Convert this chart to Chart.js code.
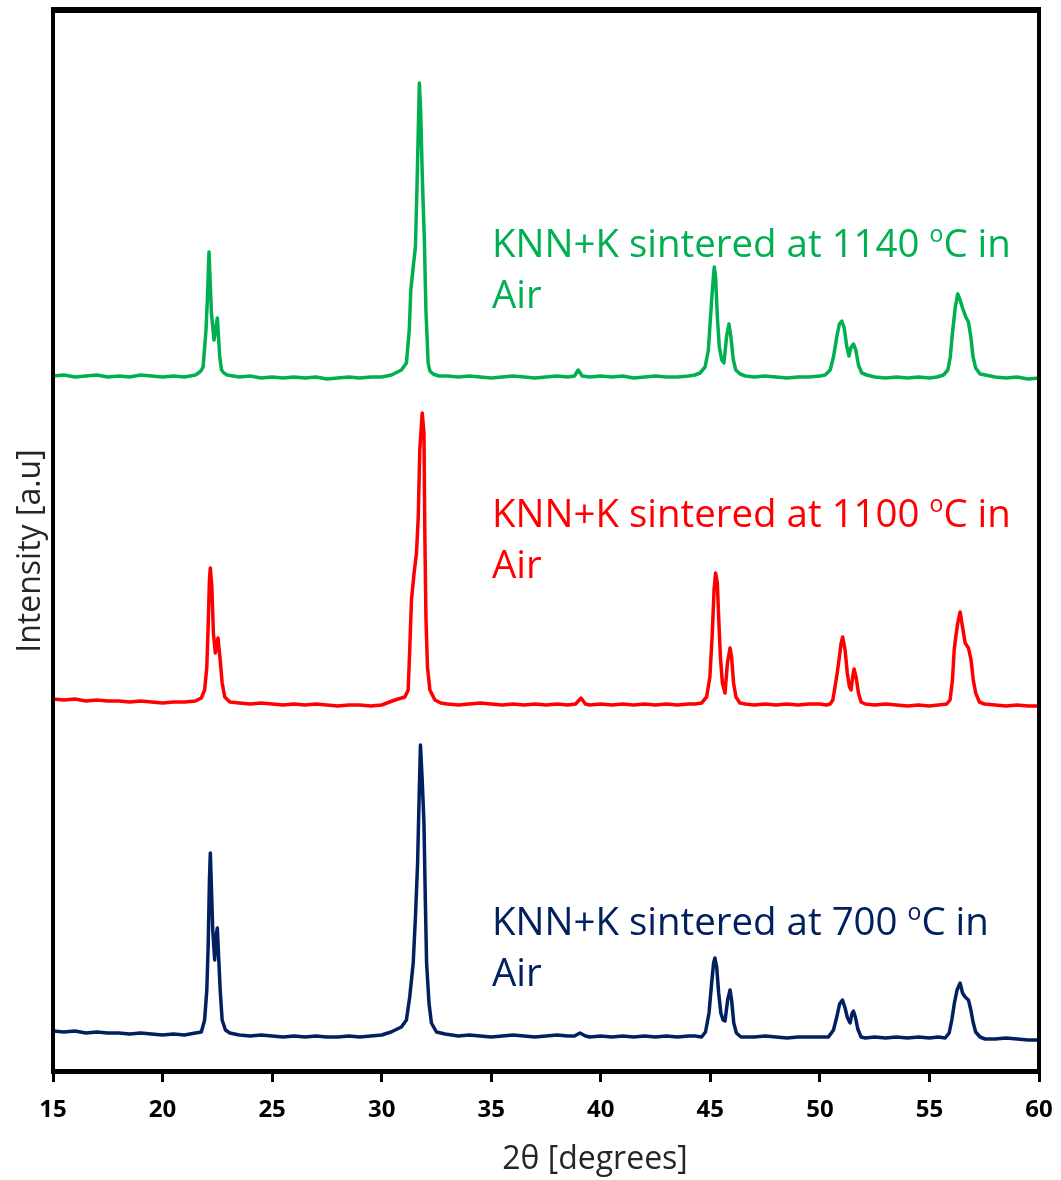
<!DOCTYPE html>
<html>
<head>
<meta charset="utf-8">
<script src="https://cdn.jsdelivr.net/npm/chart.js@4.4.1/dist/chart.umd.min.js"></script>
<style>
  html, body { margin: 0; padding: 0; background: #fff; }
  #wrap { width: 1061px; height: 1180px; }
</style>
</head>
<body>
<div id="wrap"><canvas id="xrd" width="1061" height="1180"></canvas></div>
<script>
// XRD patterns, 2-theta in degrees, intensity in arbitrary (stacked) units

// 1140 C pattern
const theta1140 = [
  15.0, 15.5, 16.0, 16.5, 17.0, 17.5, 18.0, 18.5, 19.0, 19.5, 20.0, 20.5, 21.0, 21.5,
  21.7, 21.78, 21.85, 21.98, 22.05, 22.12, 22.23, 22.35, 22.5, 22.61, 22.69, 22.8, 22.95,
  23.5, 24.0, 24.5, 25.0, 25.5, 26.0, 26.5, 27.0, 27.5, 28.0, 28.5, 29.0, 29.5, 30.0,
  30.45, 30.9, 31.13, 31.26, 31.33, 31.44, 31.54, 31.62, 31.72, 31.78, 31.86, 31.95, 32.02, 32.07, 32.12, 32.2, 32.35, 32.6,
  33.0, 33.5, 34.0, 34.5, 35.0, 35.5, 36.0, 36.5, 37.0, 37.5, 38.0, 38.5,
  38.8, 38.97, 39.15,
  39.5, 40.0, 40.5, 41.0, 41.5, 42.0, 42.5, 43.0, 43.5, 44.0,
  44.3, 44.53, 44.76, 44.91, 45.06, 45.14, 45.18, 45.24, 45.32, 45.41, 45.52, 45.62, 45.74, 45.85, 45.94, 46.05, 46.16, 46.36, 46.6,
  47.0, 47.5, 48.0, 48.5, 49.0, 49.5, 50.0,
  50.24, 50.47, 50.62, 50.77, 50.89, 51.0, 51.11, 51.23, 51.33, 51.41, 51.53, 51.64, 51.76, 51.91, 52.14,
  52.5, 53.0, 53.5, 54.0, 54.5, 55.0,
  55.35, 55.64, 55.84, 55.95, 56.05, 56.18, 56.29, 56.4, 56.51, 56.66, 56.78, 56.89, 56.99, 57.11, 57.31, 57.55,
  58.0, 58.5, 59.0, 59.5, 60.0
];
const int1140 = [
  695, 696, 694, 695, 696, 694, 695, 694, 696, 695, 694, 695, 694, 696,
  699, 701, 704, 740, 774, 819, 758, 731, 753, 714, 701, 698, 696,
  694, 695, 693, 694, 693, 694, 693, 694, 692, 693, 694, 693, 694, 694,
  696, 701, 708, 741, 781, 804, 824, 891, 988, 960, 890, 830, 760, 735, 708, 700, 697, 695,
  695, 694, 695, 694, 693, 694, 695, 694, 693, 694, 695, 694,
  695, 701, 695,
  694, 695, 694, 695, 693, 694, 695, 694, 694, 695,
  696, 698, 704, 721, 771, 794, 804, 794, 754, 724, 711, 708, 734, 747, 734, 711, 701, 697, 695,
  694, 695, 694, 693, 694, 694, 695,
  696, 701, 714, 734, 747, 750, 743, 724, 715, 723, 727, 721, 706, 698, 696,
  694, 693, 694, 693, 694, 693,
  694, 696, 701, 714, 738, 764, 777, 771, 763, 754, 749, 734, 714, 703, 697, 696,
  694, 693, 694, 692, 693
];

// 1100 C pattern
const theta1100 = [
  15.0, 15.5, 16.0, 16.5, 17.0, 17.5, 18.0, 18.5, 19.0, 19.5, 20.0, 20.5, 21.0, 21.5,
  21.77, 21.92, 22.02, 22.08, 22.14, 22.18, 22.25, 22.32, 22.41, 22.53, 22.63, 22.72, 22.84, 23.07,
  23.5, 24.0, 24.5, 25.0, 25.5, 26.0, 26.5, 27.0, 27.5, 28.0, 28.5, 29.0, 29.5, 30.0,
  30.6, 31.06, 31.21, 31.28, 31.36, 31.48, 31.59, 31.67, 31.74, 31.85, 31.93, 31.97, 32.02, 32.09, 32.2, 32.43, 32.7,
  33.0, 33.5, 34.0, 34.5, 35.0, 35.5, 36.0, 36.5, 37.0, 37.5, 38.0, 38.5,
  38.85, 39.1, 39.3,
  39.5, 40.0, 40.5, 41.0, 41.5, 42.0, 42.5, 43.0, 43.5, 44.0,
  44.3, 44.6, 44.83, 44.98, 45.09, 45.17, 45.24, 45.32, 45.38, 45.46, 45.55, 45.67, 45.78, 45.9, 45.97, 46.06, 46.17, 46.35, 46.6,
  47.0, 47.5, 48.0, 48.5, 49.0, 49.5, 50.0,
  50.3, 50.47, 50.59, 50.69, 50.79, 50.89, 50.97, 51.04, 51.15, 51.25, 51.35, 51.42, 51.51, 51.56, 51.65, 51.76, 51.88, 52.07,
  52.5, 53.0, 53.5, 54.0, 54.5, 55.0,
  55.4, 55.79, 55.94, 56.05, 56.13, 56.2, 56.3, 56.4, 56.51, 56.63, 56.78, 56.9, 57.0, 57.11, 57.28, 57.51,
  58.0, 58.5, 59.0, 59.5, 60.0
];
const int1100 = [
  372, 371, 372, 370, 371, 370, 370, 369, 370, 369, 368, 369, 369, 370,
  373, 381, 404, 444, 491, 503, 484, 438, 418, 433, 411, 388, 374, 369,
  368, 367, 368, 367, 366, 367, 366, 367, 366, 365, 366, 366, 365, 366,
  371, 374, 381, 421, 471, 498, 518, 554, 621, 658, 638, 538, 454, 404, 381, 371, 368,
  367, 366, 367, 368, 367, 366, 367, 366, 367, 366, 367, 366,
  367, 373, 367,
  366, 367, 366, 367, 366, 367, 366, 367, 366, 367,
  367, 368, 374, 394, 438, 481, 498, 488, 454, 414, 388, 378, 408, 423, 414, 388, 374, 368, 367,
  366, 367, 366, 367, 366, 367, 367,
  366, 367, 371, 384, 398, 414, 428, 434, 421, 398, 384, 381, 396, 402, 394, 378, 369, 367,
  366, 367, 366, 365, 366, 365,
  366, 367, 371, 391, 421, 434, 449, 459, 444, 428, 423, 411, 391, 378, 369, 367,
  366, 365, 366, 365, 365
];

// 700 C pattern
const theta700 = [
  15.0, 15.5, 16.0, 16.5, 17.0, 17.5, 18.0, 18.5, 19.0, 19.5, 20.0, 20.5, 21.0, 21.5,
  21.77, 21.92, 22.02, 22.08, 22.14, 22.18, 22.23, 22.29, 22.38, 22.44, 22.5, 22.56, 22.63, 22.72, 22.87, 23.07,
  23.5, 24.0, 24.5, 25.0, 25.5, 26.0, 26.5, 27.0, 27.5, 28.0, 28.5, 29.0, 29.5, 30.0,
  30.43, 30.9, 31.13, 31.28, 31.44, 31.55, 31.64, 31.71, 31.77, 31.85, 31.93, 31.99, 32.05, 32.16, 32.27, 32.5, 32.89,
  33.5, 34.0, 34.5, 35.0, 35.5, 36.0, 36.5, 37.0, 37.5, 38.0, 38.5,
  38.8, 39.05, 39.3,
  39.5, 40.0, 40.5, 41.0, 41.5, 42.0, 42.5, 43.0, 43.5, 44.0,
  44.3, 44.6, 44.78, 44.94, 45.06, 45.15, 45.21, 45.29, 45.38, 45.48, 45.58, 45.67, 45.79, 45.9, 45.97, 46.07, 46.19, 46.4, 46.7,
  47.0, 47.5, 48.0, 48.5, 49.0, 49.5, 50.0,
  50.39, 50.62, 50.77, 50.9, 51.03, 51.15, 51.26, 51.38, 51.46, 51.53, 51.62, 51.73, 51.88, 52.07,
  52.5, 53.0, 53.5, 54.0, 54.5, 55.0,
  55.4, 55.72, 55.9, 56.02, 56.14, 56.26, 56.4, 56.51, 56.63, 56.78, 56.89, 56.99, 57.11, 57.31, 57.54,
  58.0, 58.5, 59.0, 59.5, 60.0
];
const int700 = [
  40, 39, 40, 38, 39, 38, 38, 37, 38, 37, 36, 37, 36, 38,
  39, 51, 81, 124, 191, 218, 184, 141, 111, 134, 143, 114, 81, 51, 41, 38,
  36, 35, 36, 35, 34, 35, 34, 35, 34, 34, 35, 34, 35, 36,
  39, 44, 51, 74, 108, 158, 208, 274, 326, 291, 248, 174, 108, 68, 48, 39, 37,
  35, 36, 35, 34, 35, 36, 35, 34, 35, 36, 35,
  35, 38, 35,
  34, 35, 34, 35, 34, 35, 34, 35, 34, 35,
  35, 34, 39, 58, 88, 108, 113, 104, 78, 58, 51, 50, 71, 81, 71, 48, 38, 34, 34,
  34, 35, 34, 33, 34, 34, 34,
  34, 41, 54, 67, 71, 63, 53, 48, 57, 60, 54, 42, 34, 33,
  34, 33, 34, 33, 34, 33,
  34, 33, 38, 51, 68, 81, 88, 78, 74, 71, 61, 49, 39, 34, 32,
  32, 33, 32, 31, 31
];

const xTicks = [15, 20, 25, 30, 35, 40, 45, 50, 55, 60];
const sampleTemps = ['1140', '1100', '700'];
const sampleColors = ['#00b050', '#ff0000', '#002060'];

function toPoints(xs, ys) {
  return xs.map((x, i) => ({ x: x, y: ys[i] }));
}

const FONT = '"Open Sans", "DejaVu Sans", sans-serif';

// frame, axis titles and the in-plot sample captions
const decorations = {
  id: 'decorations',
  afterDatasetsDraw(chart) {
    const ctx = chart.ctx;
    const a = chart.chartArea;
    ctx.save();
    ctx.fillStyle = '#000';
    ctx.fillRect(a.left - 2, a.top - 5, a.right - a.left + 4, 6);
    ctx.fillRect(a.left - 2, a.top - 5, 4, a.bottom - a.top + 7);
    ctx.fillRect(a.right - 2, a.top - 5, 4, a.bottom - a.top + 7);
    ctx.fillRect(a.left - 2, a.bottom - 2, a.right - a.left + 4, 5);
    ctx.restore();
  },
  afterDraw(chart) {
    const ctx = chart.ctx;
    ctx.save();
    ctx.fillStyle = '#262626';
    ctx.textAlign = 'center';
    ctx.textBaseline = 'middle';
    ctx.font = '32px ' + FONT;
    ctx.fillText('2\u03b8 [degrees]', 595, 1160);
    ctx.translate(31, 551);
    ctx.rotate(-Math.PI / 2);
    ctx.fillText('Intensity [a.u]', 0, 0);
    ctx.restore();

    // size the caption font so the longest line spans the same width
    ctx.save();
    ctx.font = '100px ' + FONT;
    let w = ctx.measureText('KNN+K sintered at 1140 ').width + ctx.measureText('C in').width;
    ctx.font = '60px ' + FONT;
    w += ctx.measureText('o').width;
    const size = 100 * 519 / w;
    const baselines = [257, 527, 935];
    ctx.textAlign = 'left';
    ctx.textBaseline = 'alphabetic';
    sampleTemps.forEach(function (t, i) {
      const y = baselines[i];
      let x = 492;
      ctx.fillStyle = sampleColors[i];
      ctx.font = size + 'px ' + FONT;
      const pre = 'KNN+K sintered at ' + t + ' ';
      ctx.fillText(pre, x, y);
      x += ctx.measureText(pre).width;
      ctx.font = (size * 0.6) + 'px ' + FONT;
      ctx.fillText('o', x, y - size * 0.38);
      x += ctx.measureText('o').width;
      ctx.font = size + 'px ' + FONT;
      ctx.fillText('C in', x, y);
      ctx.fillText('Air', 492, y + 51);
    });
    ctx.restore();
  }
};

const series = [
  toPoints(theta1140, int1140),
  toPoints(theta1100, int1100),
  toPoints(theta700, int700)
];

new Chart(document.getElementById('xrd'), {
  type: 'line',
  data: {
    datasets: series.map(function (pts, i) {
      return {
        label: 'KNN+K ' + sampleTemps[i],
        data: pts,
        borderColor: sampleColors[i],
        borderWidth: 3.5,
        borderJoinStyle: 'round',
        pointRadius: 0,
        tension: 0,
        fill: false
      };
    })
  },
  options: {
    responsive: false,
    animation: false,
    layout: { padding: { left: 53, right: 22, top: 12, bottom: 0 } },
    plugins: { legend: { display: false }, tooltip: { enabled: false } },
    scales: {
      x: {
        type: 'linear',
        min: 15,
        max: 60,
        afterBuildTicks: function (scale) {
          scale.ticks = xTicks.map(v => ({ value: v }));
        },
        afterFit: function (scale) {
          scale.height = 109;
          scale.paddingLeft = 0;
          scale.paddingRight = 0;
        },
        border: { display: false },
        grid: {
          drawOnChartArea: false,
          drawTicks: true,
          tickLength: 11,
          tickWidth: 3,
          tickColor: '#000'
        },
        ticks: {
          color: '#000',
          padding: 14,
          maxRotation: 0,
          font: { family: FONT, size: 24, weight: 'bold' }
        }
      },
      y: {
        display: false,
        min: 0,
        max: 1059
      }
    }
  },
  plugins: [decorations]
});
</script>
</body>
</html>
